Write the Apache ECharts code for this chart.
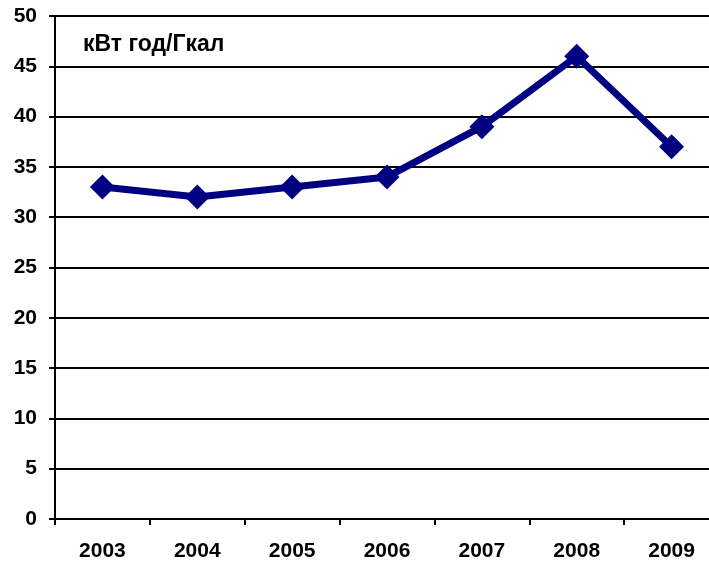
<!DOCTYPE html>
<html>
<head>
<meta charset="utf-8">
<script src="https://cdn.jsdelivr.net/npm/echarts@6/dist/echarts.min.js"></script>
<style>
  html, body { margin: 0; padding: 0; background: #fff; overflow: hidden; }
  #chart { width: 719px; height: 562px; }
</style>
</head>
<body>
<div id="chart"></div>
<script>
// Annual values, kWh per Gcal
const years = ['2003', '2004', '2005', '2006', '2007', '2008', '2009'];
const values = [33, 32, 33, 34, 39, 46, 37];
const unitLabel = 'кВт год/Гкал';

const font = 'Liberation Sans';
const chart = echarts.init(document.getElementById('chart'));
chart.setOption({
  animation: false,
  backgroundColor: '#ffffff',
  grid: { left: 55, right: 0, top: 16, bottom: 43 },
  graphic: [{
    type: 'text',
    left: 83,
    top: 33,
    style: { text: unitLabel, font: 'bold 23px "' + font + '"', fill: '#000' }
  }],
  xAxis: {
    type: 'category',
    data: years,
    boundaryGap: true,
    axisLine: { lineStyle: { color: '#000', width: 2 } },
    axisTick: { show: true, length: 6, inside: false, lineStyle: { color: '#000', width: 2 } },
    axisLabel: { color: '#000', fontFamily: font, fontWeight: 'bold', fontSize: 21, margin: 22 }
  },
  yAxis: {
    type: 'value',
    min: 0,
    max: 50,
    interval: 5,
    axisLine: { show: true, lineStyle: { color: '#000', width: 2 } },
    axisTick: { show: true, length: 6, lineStyle: { color: '#000', width: 2 } },
    splitLine: { show: true, lineStyle: { color: '#000', width: 2 } },
    axisLabel: { color: '#000', fontFamily: font, fontWeight: 'bold', fontSize: 21, margin: 18 }
  },
  series: [{
    type: 'line',
    data: values,
    symbol: 'diamond',
    symbolSize: 25,
    lineStyle: { color: '#000080', width: 7 },
    itemStyle: { color: '#000080' }
  }]
});
</script>
</body>
</html>
